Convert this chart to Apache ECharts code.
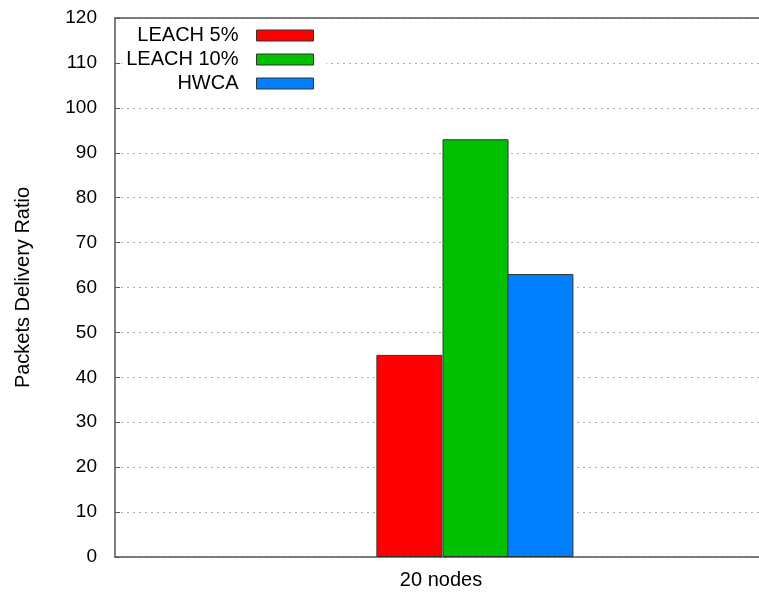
<!DOCTYPE html>
<html>
<head>
<meta charset="utf-8">
<script src="https://cdn.jsdelivr.net/npm/echarts@6/dist/echarts.min.js"></script>
<style>html,body{margin:0;padding:0;background:#fff;}#c{width:759px;height:592px;}</style>
</head>
<body>
<div id="c"></div>
<script>
var categories = ['20 nodes'];
var seriesNames = ['LEACH 5%', 'LEACH 10%', 'HWCA'];
var leach5 = [45];
var leach10 = [93];
var hwca = [63];
var barOffsets = [-0.097, 0.106, 0.305];
var yTicks = [0, 10, 20, 30, 40, 50, 60, 70, 80, 90, 100, 110, 120];
var colors = ['#ff0000', '#00c000', '#0080ff'];

var values = [leach5, leach10, hwca];
var font = 'Liberation Sans, Arial, sans-serif';
var chart = echarts.init(document.getElementById('c'));
chart.setOption({
  animation: false,
  backgroundColor: '#fff',
  grid: {left: 115, top: 18, width: 652, height: 539, containLabel: false, outerBoundsMode: 'none'},
  legend: {
    orient: 'vertical', align: 'right', right: 433, top: 21.5,
    padding: [4, 12, 6, 4], itemGap: 4, itemWidth: 57, itemHeight: 11,
    backgroundColor: '#fff', z: 10,
    icon: 'rect',
    itemStyle: {borderColor: '#333', borderWidth: 1},
    textStyle: {fontFamily: font, fontSize: 20, color: '#000', lineHeight: 20, padding: [0, 13, 0, 0]},
    data: seriesNames
  },
  xAxis: [{
    type: 'value', min: -1, max: 1, interval: 1,
    axisLine: {show: true, onZero: false, lineStyle: {color: '#555', width: 1.5}},
    axisTick: {show: false},
    splitLine: {show: false},
    axisLabel: {fontFamily: font, fontSize: 20, color: '#000', margin: 13,
      formatter: function (v) { return Math.abs(v) < 1e-9 ? categories[0] : ''; }}
  }, {
    type: 'value', min: -1, max: 1, position: 'top',
    axisLine: {show: true, onZero: false, lineStyle: {color: '#555', width: 1.5}},
    axisTick: {show: false}, axisLabel: {show: false}, splitLine: {show: false}
  }],
  yAxis: {
    type: 'value', min: 0, max: 120, interval: 10,
    name: 'Packets Delivery Ratio', nameLocation: 'middle', nameGap: 82,
    nameTextStyle: {fontFamily: font, fontSize: 20, color: '#000'},
    axisLine: {show: true, onZero: false, lineStyle: {color: '#555', width: 1.5}},
    axisTick: {show: true, inside: true, length: 5, lineStyle: {color: '#555'}},
    axisLabel: {fontFamily: font, fontSize: 19, color: '#000', margin: 18,
      formatter: function (v) { return yTicks.indexOf(v) >= 0 ? String(v) : ''; }},
    splitLine: {show: true, lineStyle: {color: '#aaa', type: [2, 4], width: 1.2}}
  },
  series: seriesNames.map(function (n, i) {
    return {
      name: n, type: 'bar', barWidth: 66, barGap: '-100%',
      itemStyle: {color: colors[i], borderColor: '#333', borderWidth: 1},
      data: values[i].map(function (v) { return [barOffsets[i], v]; })
    };
  })
});
</script>
</body>
</html>
